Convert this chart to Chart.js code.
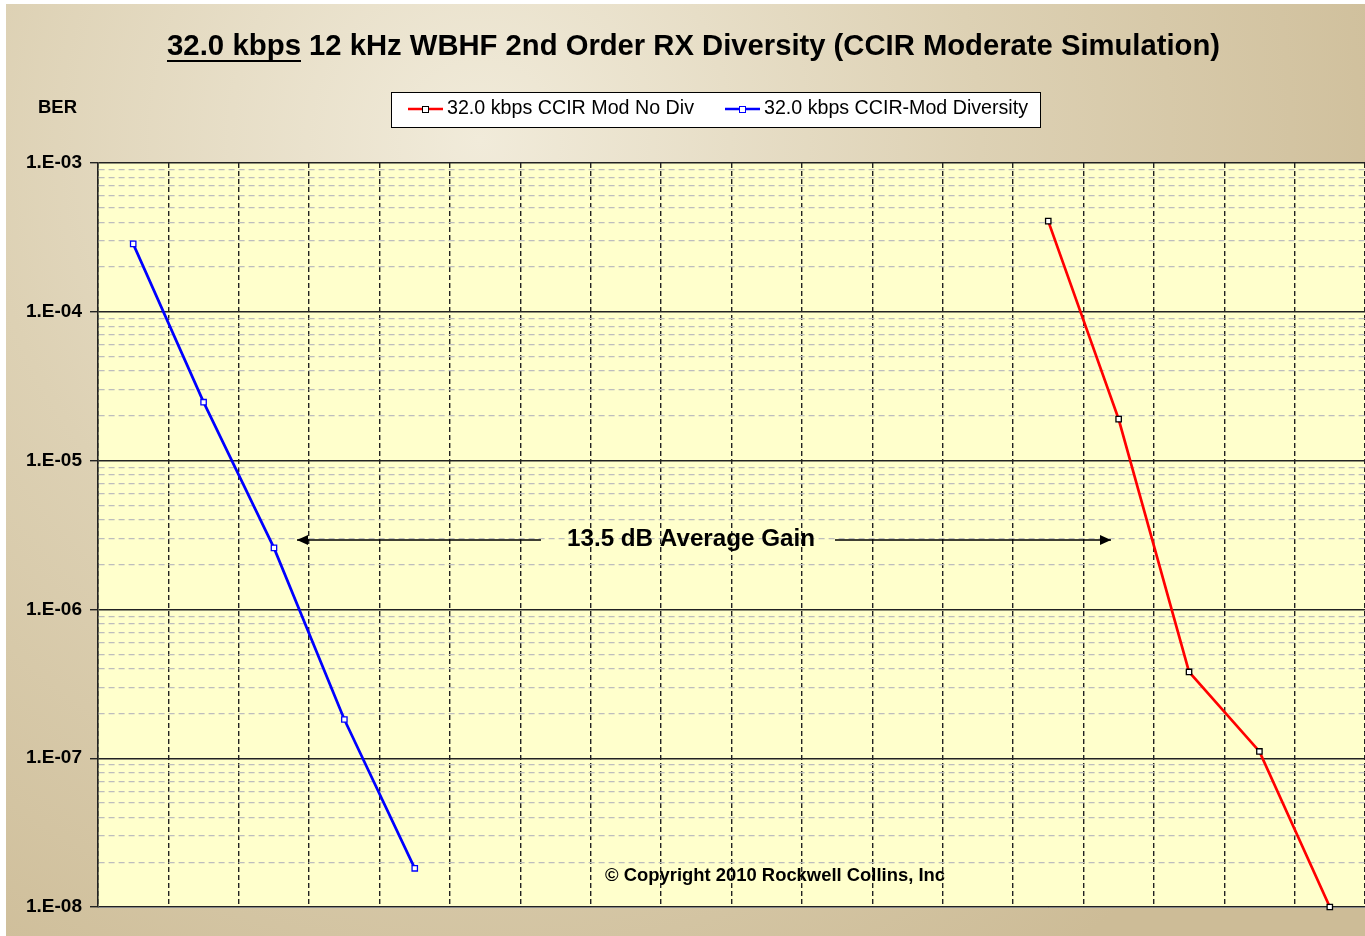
<!DOCTYPE html>
<html>
<head>
<meta charset="utf-8">
<script src="https://cdn.jsdelivr.net/npm/chart.js@4.4.1/dist/chart.umd.min.js"></script>
<style>
  html, body { margin: 0; padding: 0; background: #fff; }
  #wrap { width: 1365px; height: 936px; position: relative; }
</style>
</head>
<body>
<div id="wrap"><canvas id="chart"></canvas></div>
<script>
// x positions (hidden category axis, 18 slots)
const categories = ['1', '2', '3', '4', '5', '6', '7', '8', '9', '10', '11', '12', '13', '14', '15', '16', '17', '18'];

// BER values
const noDivBER = [null, null, null, null, null, null, null, null, null, null, null, null, null,
  4.07e-4, 1.9e-5, 3.8e-7, 1.11e-7, 1.0e-8];
const divBER = [2.86e-4, 2.47e-5, 2.59e-6, 1.82e-7, 1.82e-8,
  null, null, null, null, null, null, null, null, null, null, null, null, null];

const seriesLabels = ['32.0 kbps CCIR Mod No Div', '32.0 kbps CCIR-Mod Diversity'];
const yTicks = [1e-3, 1e-4, 1e-5, 1e-6, 1e-7, 1e-8];

const titleUnderlined = '32.0 kbps';
const titleRest = ' 12 kHz WBHF 2nd Order RX Diversity (CCIR Moderate Simulation)';
const gainNote = '13.5 dB Average Gain';
const copyright = '\u00A9 Copyright 2010 Rockwell Collins, Inc';

const FONT = '"Liberation Sans", Arial, sans-serif';

// draws text squeezed/stretched to a target width
function fitText(ctx, text, x, y, size, weight, width) {
  ctx.save();
  ctx.font = `${weight} ${size}px ${FONT}`;
  ctx.textBaseline = 'middle';
  ctx.textAlign = 'left';
  const w = ctx.measureText(text).width;
  ctx.translate(x, y);
  ctx.scale(width / w, 1);
  ctx.fillText(text, 0, 0);
  ctx.restore();
}

function arrow(ctx, x1, x2, y, headAt) {
  ctx.beginPath();
  ctx.moveTo(x1, y);
  ctx.lineTo(x2, y);
  ctx.lineWidth = 1.5;
  ctx.strokeStyle = '#000';
  ctx.stroke();
  const dir = headAt === x1 ? -1 : 1;
  ctx.beginPath();
  ctx.moveTo(headAt, y);
  ctx.lineTo(headAt - dir * 11, y - 5);
  ctx.lineTo(headAt - dir * 11, y + 5);
  ctx.closePath();
  ctx.fillStyle = '#000';
  ctx.fill();
}

const backdrop = {
  id: 'backdrop',
  beforeDraw(chart) {
    const { ctx, chartArea: a } = chart;
    ctx.save();
    ctx.fillStyle = '#fff';
    ctx.fillRect(0, 0, chart.width, chart.height);
    const g = ctx.createRadialGradient(480, 140, 0, 480, 140, 1000);
    g.addColorStop(0, '#F1EBDA');
    g.addColorStop(0.5, '#DDD1B4');
    g.addColorStop(1, '#CDBC97');
    ctx.fillStyle = g;
    ctx.fillRect(6, 4, chart.width - 6, chart.height - 4);
    ctx.fillStyle = '#FFFFCC';
    ctx.fillRect(a.left, a.top, a.right - a.left, a.bottom - a.top);
    ctx.restore();
  }
};

const decor = {
  id: 'decor',
  afterDraw(chart) {
    const { ctx } = chart;
    ctx.save();
    ctx.fillStyle = '#000';

    // title with underlined first part
    fitText(ctx, titleUnderlined, 167, 47, 29, 'bold', 134);
    fitText(ctx, titleRest, 301, 47, 29, 'bold', 919);
    ctx.fillRect(167, 60, 134, 2);

    fitText(ctx, 'BER', 38, 108, 19, 'bold', 39);

    // legend box
    ctx.fillStyle = '#fff';
    ctx.fillRect(391, 92, 649, 35);
    ctx.strokeStyle = '#000';
    ctx.lineWidth = 1;
    ctx.strokeRect(391.5, 92.5, 649, 35);
    const items = [
      { x: 408, tx: 447, tw: 247, ds: chart.data.datasets[0] },
      { x: 725, tx: 764, tw: 264, ds: chart.data.datasets[1] }
    ];
    items.forEach(it => {
      ctx.beginPath();
      ctx.moveTo(it.x, 109);
      ctx.lineTo(it.x + 35, 109);
      ctx.strokeStyle = it.ds.borderColor;
      ctx.lineWidth = 2.5;
      ctx.stroke();
      ctx.fillStyle = '#fff';
      ctx.fillRect(it.x + 14.5, 106.5, 6, 6);
      ctx.strokeStyle = it.ds.pointBorderColor;
      ctx.lineWidth = 1;
      ctx.strokeRect(it.x + 14.5, 106.5, 6, 6);
      ctx.fillStyle = '#000';
      fitText(ctx, it.ds.label, it.tx, 108, 20, 'normal', it.tw);
    });

    // gain annotation
    fitText(ctx, gainNote, 567, 539, 24, 'bold', 248);
    arrow(ctx, 297, 541, 540, 297);
    arrow(ctx, 835, 1111, 540, 1111);

    fitText(ctx, copyright, 605, 876, 19, 'bold', 340);
    ctx.restore();
  }
};

const isDecade = v => Math.abs(Math.log10(v) - Math.round(Math.log10(v))) < 1e-6;

new Chart(document.getElementById('chart'), {
  type: 'line',
  data: {
    labels: categories,
    datasets: [
      {
        label: seriesLabels[0],
        data: noDivBER,
        borderColor: '#FF0000',
        borderWidth: 2.7,
        pointStyle: 'rect',
        pointRadius: 3.8,
        pointBorderWidth: 1.3,
        pointBorderColor: '#000000',
        pointBackgroundColor: '#FFFFFF',
        tension: 0,
        clip: false
      },
      {
        label: seriesLabels[1],
        data: divBER,
        borderColor: '#0000FF',
        borderWidth: 2.7,
        pointStyle: 'rect',
        pointRadius: 3.8,
        pointBorderWidth: 1.3,
        pointBorderColor: '#0000FF',
        pointBackgroundColor: '#FFFFFF',
        tension: 0,
        clip: false
      }
    ]
  },
  options: {
    responsive: true,
    maintainAspectRatio: false,
    animation: false,
    layout: { autoPadding: false, padding: { top: 163, bottom: 29, left: 0, right: 0 } },
    plugins: {
      legend: { display: false },
      title: { display: false },
      tooltip: { enabled: false }
    },
    scales: {
      x: {
        type: 'category',
        offset: true,
        grid: {
          offset: true,
          color: '#222222',
          lineWidth: 1.4,
          drawTicks: false
        },
        border: { color: '#888888', width: 1, dash: [5, 3] },
        ticks: { display: false },
        afterFit: s => { s.height = 0; s.paddingLeft = 0; s.paddingRight = 0; }
      },
      y: {
        type: 'logarithmic',
        min: 1e-8,
        max: 1e-3,
        afterFit: s => { s.width = 98; },
        afterBuildTicks: s => {
          const out = [];
          for (let e = -8; e <= -3; e++) {
            for (let m = 1; m <= 9; m++) {
              const v = m * Math.pow(10, e);
              if (v <= 1e-3 * 1.0000001) out.push({ value: v });
            }
          }
          s.ticks = out;
        },
        grid: {
          color: c => isDecade(c.tick.value) ? '#222222' : '#BDBDBD',
          lineWidth: c => isDecade(c.tick.value) ? 1.4 : 1.3,
          tickColor: c => isDecade(c.tick.value) ? '#222222' : 'rgba(0,0,0,0)',
          tickLength: 8
        },
        border: {
          color: '#222222',
          width: 1.6,
          dash: c => isDecade(c.tick.value) ? [] : [6, 4]
        },
        ticks: {
          autoSkip: false,
          padding: 8,
          color: '#000',
          font: { family: FONT, size: 19, weight: 'bold' },
          callback: v => {
            if (!yTicks.some(t => Math.abs(t - v) / t < 1e-6)) return '';
            const e = Math.round(Math.log10(v));
            return '1.E-' + String(-e).padStart(2, '0');
          }
        }
      }
    }
  },
  plugins: [backdrop, decor]
});
</script>
</body>
</html>
